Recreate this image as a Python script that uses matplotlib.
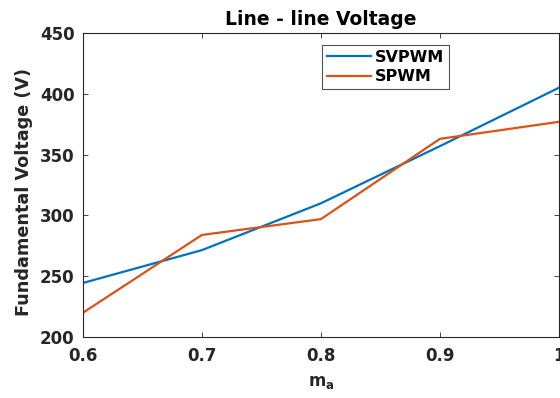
import matplotlib
matplotlib.use("Agg")
import matplotlib.pyplot as plt

plt.rcParams['font.family'] = ['DejaVu Sans']
plt.rcParams['font.weight'] = 'bold'
plt.rcParams['mathtext.fontset'] = 'dejavusans'

ma = [0.6, 0.7, 0.8, 0.9, 1.0]
svpwm = [244.5, 271.5, 310, 357, 405]
spwm = [220, 284, 297, 363, 377]
xticks = [0.6, 0.7, 0.8, 0.9, 1.0]
xticklabels = ['0.6', '0.7', '0.8', '0.9', '1']
yticks = [200, 250, 300, 350, 400, 450]

fig = plt.figure(figsize=(5.6, 3.98), dpi=100)
ax = fig.add_axes([0.148, 0.153, 0.850, 0.764])
ax.plot(ma, svpwm, color='#0072BD', lw=1.6, label='SVPWM')
ax.plot(ma, spwm, color='#D95319', lw=1.6, label='SPWM')
ax.set_xlim(0.6, 1.0)
ax.set_ylim(200, 450)
ax.set_xticks(xticks)
ax.set_xticklabels(xticklabels)
ax.set_yticks(yticks)
ax.tick_params(direction='in', top=True, right=True, labelsize=12, length=3.5,
               width=0.6, color='#262626', labelcolor='#262626')
ax.tick_params(axis='y', pad=6)
ax.tick_params(axis='x', pad=7)
for s in ax.spines.values():
    s.set_color('#262626')
    s.set_linewidth(0.8)
ax.set_title('Line - line Voltage', fontsize=13.5, fontweight='bold', pad=6,
             color='#000000')
ax.set_ylabel('Fundamental Voltage (V)', fontsize=12.7, fontweight='bold',
              labelpad=5, y=0.477, color='#262626')
ax.set_xlabel('m$_\\mathbf{a}$', fontsize=12, fontweight='bold', labelpad=6,
              color='#262626')
leg = ax.legend(loc='upper left', bbox_to_anchor=(0.502, 0.961), fontsize=11.5,
                frameon=True, fancybox=False, edgecolor='#262626',
                handlelength=2.8, borderpad=0.3, labelspacing=0.3,
                handletextpad=0.2, borderaxespad=0)
leg.get_frame().set_linewidth(0.8)
fig.savefig('out.png', dpi=100)
